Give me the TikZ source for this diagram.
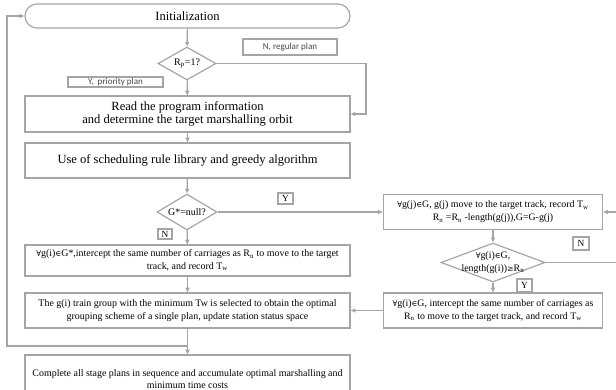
\documentclass[tikz,border=0pt]{standalone}
\usepackage{fontspec}
\setmainfont{Liberation Serif}
\setsansfont{Carlito}
\newfontfamily\symfont{DejaVu Serif}
\usetikzlibrary{shapes.geometric,arrows.meta}
\definecolor{linegray}{RGB}{165,165,165}
\definecolor{tagtext}{RGB}{70,70,70}
\newcommand{\forallsym}{{\symfont\scalebox{0.8}{∀}}}
\newcommand{\insym}{{\symfont\scalebox{0.8}{∈}}}
\newcommand{\geqsym}{{\symfont\scalebox{0.8}{≥}}}
\begin{document}
\begin{tikzpicture}[x=0.75pt, y=-0.75pt,
  every node/.style={inner sep=0pt, align=center},
  flow/.style={draw=linegray, line width=0.9pt},
  bigbox/.style={flow, minimum width=243.75pt, font=\fontsize{9.4}{9.6}\selectfont},
  smallbox/.style={flow, minimum width=243.75pt, font=\fontsize{7.45}{9.6}\selectfont},
  sidebox/.style={flow, minimum width=164.5pt, minimum height=26.25pt, font=\fontsize{7.4}{9.6}\selectfont},
  decision/.style={flow, diamond, aspect=2, font=\fontsize{7.5}{9}\selectfont},
  tag/.style={flow, font=\sffamily\fontsize{6.8}{7}\selectfont, text=tagtext},
  yn/.style={flow, font=\fontsize{7}{8}\selectfont},
  arr/.style={draw=linegray, line width=0.9pt, -{Triangle[length=3.5pt,width=3pt]}}]
\useasboundingbox (0,0) rectangle (616,389);
% \node at (187.5,0) {Flow};
\node[bigbox, minimum height=18pt, rounded corners=9pt] (Init) at (187.5,16) {Initialization};
\node[decision, minimum width=43.5pt, minimum height=24.75pt] (Rp Check) at (187,63.5) {R\textsubscript{p}=1?};
\node[tag, minimum width=70.5pt, minimum height=12pt] (Regular Tag) at (290,47) {N, regular plan};
\node[tag, minimum width=71.25pt, minimum height=7.5pt] (Priority Tag) at (115.5,82) {Y,\ \ priority plan};

\node[bigbox, minimum height=27pt] (Read Info) at (187.5,114) {Read the program information\\and determine the target marshalling orbit};
\node[bigbox, minimum height=26.25pt] (Scheduling) at (187.5,160.5) {Use of scheduling rule library and greedy algorithm};

\node[decision, minimum width=45pt, minimum height=27pt] (Null Check) at (187,212) {G*=null?};
\node[yn, minimum width=11.25pt, minimum height=8.25pt] (Y Null) at (285.5,198.5) {Y};
\node[yn, minimum width=10.5pt, minimum height=7.5pt] (N Null) at (165,234) {N};

\node[sidebox] (Move Group) at (493,212) {\forallsym g(j)\insym G, g(j) move to the target track, record T\textsubscript{w}\\R\textsubscript{n} =R\textsubscript{n} -length(g(j)),G=G-g(j)};
\node[decision, minimum width=78pt, minimum height=29.25pt,
  label={[font=\fontsize{7.4}{9.6}\selectfont, align=center]center:{\forallsym g(i)\insym G,\\length(g(i))\geqsym R\textsubscript{n}}}] (Length Check) at (493,262.5) {};
\node[yn, minimum width=12pt, minimum height=9.75pt] (N Length) at (581,243.5) {N};
\node[yn, minimum width=11.25pt, minimum height=9.75pt] (Y Length) at (524.5,285.5) {Y};
\node[sidebox] (Intercept G) at (493,310.5) {\forallsym g(i)\insym G, intercept the same number of carriages as\\R\textsubscript{n} to move to the target track, and record T\textsubscript{w}};

\node[smallbox, minimum height=23.25pt] (Intercept Star) at (187.5,260.5) {\forallsym g(i)\insym G*,intercept the same number of carriages as R\textsubscript{n} to move to the target\\track, and record T\textsubscript{w}};
\node[smallbox, minimum height=26.25pt] (Min Tw) at (187.5,310.5) {The g(i) train group with the minimum Tw is selected to obtain the optimal\\grouping scheme of a single plan, update station status space};
\node[smallbox, minimum height=36pt] (Complete) at (187.5,379) {Complete all stage plans in sequence and accumulate optimal marshalling and\\minimum time costs};

\coordinate (Loop Start) at (187.5,346);

\draw[arr] (Init) -- (Rp Check);
\draw[arr] (Rp Check) -- (Read Info);
\draw[arr] (Rp Check) -| (366,88) |- (Read Info);
\draw[arr] (Read Info) -- (Scheduling);
\draw[arr] (Scheduling) -- (Null Check);
\draw[arr] (Null Check) -- (Intercept Star);
\draw[arr] (Null Check) -- (Move Group);
\draw[arr] (Move Group) -- (Length Check);
\draw[arr] (Length Check) -- (Intercept G);
\draw[arr] (Length Check) -| (622,240) |- (Move Group);
\draw[arr] (Intercept G) -- (Min Tw);
\draw[arr] (Intercept Star) -- (Min Tw);
\draw[arr] (Min Tw) -- (Complete);
\draw[arr] (Loop Start) -| (7,180) |- (Init);
\end{tikzpicture}
\end{document}
